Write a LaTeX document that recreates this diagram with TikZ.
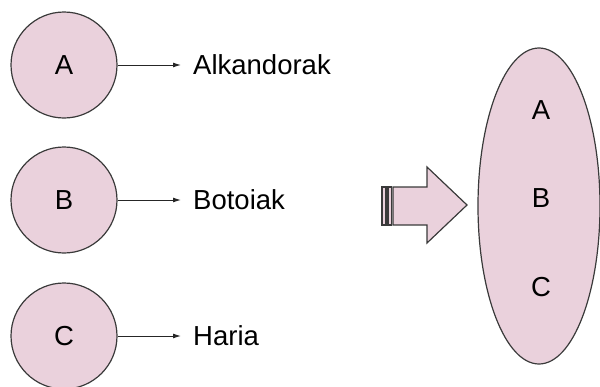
\documentclass[tikz,border=0pt]{standalone}
\usepackage{fontspec}
\setmainfont{Liberation Sans}
\usetikzlibrary{shapes.geometric}
\definecolor{setpink}{HTML}{EAD1DC}
\definecolor{edgegray}{HTML}{3A3A3A}
\tikzset{
  elem/.style={circle, draw=edgegray, line width=1.2pt, fill=setpink, minimum size=106pt, inner sep=0pt},
  word/.style={anchor=west, inner xsep=12pt, inner ysep=0pt},
  link/.style={-{Latex[length=8pt,width=5pt]}, line width=1pt, draw=black!85},
}
\usetikzlibrary{arrows.meta}
\begin{document}
\begin{tikzpicture}[x=1pt, y=-1pt, font=\fontsize{27.5}{32}\selectfont]
    \useasboundingbox (0,0) rectangle (600,386);
    \node[elem] (a) at (64,65) {A};
    \node[elem] (b) at (64,200) {B};
    \node[elem] (c) at (64,336) {C};
    \node[word] (ta) at (181,65) {Alkandorak};
    \node[word] (tb) at (181,200) {Botoiak};
    \node[word] (tc) at (181,336) {Haria};
    \draw[link] (a) -- (ta);
    \draw[link] (b) -- (tb);
    \draw[link] (c) -- (tc);
    \draw[edgegray, line width=1.2pt, fill=setpink] (382,187) rectangle (386,225);
    \draw[edgegray, line width=1.2pt, fill=setpink] (388,187) rectangle (391.5,225);
    \draw[edgegray, line width=1.2pt, fill=setpink] (393,187) -- (427,187) -- (427,167)
      -- (467,205) -- (427,243) -- (427,225) -- (393,225) -- cycle;
    \node[ellipse, draw=edgegray, line width=1.2pt, fill=setpink,
      minimum width=122pt, minimum height=316pt] (set) at (539,206) {};
    \node (sa) at (541,110) {A};
    \node (sb) at (541,198) {B};
    \node (sc) at (541,287) {C};
  \end{tikzpicture}
\end{document}
